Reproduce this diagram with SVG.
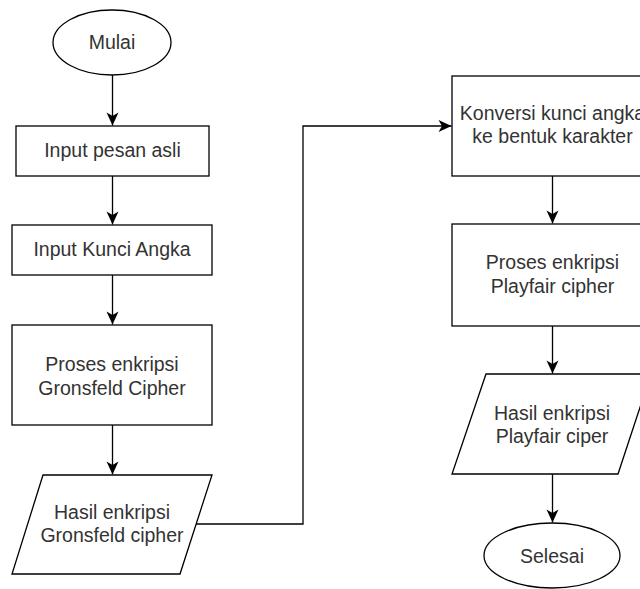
<svg xmlns="http://www.w3.org/2000/svg" width="640" height="589" viewBox="0 0 640 589">
  <style>
    .shape { fill: #ffffff; stroke: #000000; stroke-width: 1.3; }
    .edge { fill: none; stroke: #000000; stroke-width: 1.3; }
    .label { font-family: "Liberation Sans", Arial, sans-serif; font-size: 19.5px; fill: #333333; text-anchor: middle; }
  </style>
  <defs>
    <marker id="arrow" markerUnits="userSpaceOnUse" markerWidth="16" markerHeight="16" viewBox="-14 -8 16 16" refX="0" refY="0" orient="auto">
      <path d="M0,0 L-13,-6 L-9.5,0 L-13,6 Z" fill="#000000"/>
    </marker>
  </defs>

  <rect width="640" height="589" fill="#ffffff"/>

  <!-- connectors -->
  <g id="connectors">
    <path class="edge" d="M112.5,75 V125.5" marker-end="url(#arrow)"/>
    <path class="edge" d="M112.5,176 V224.5" marker-end="url(#arrow)"/>
    <path class="edge" d="M112.5,275 V324.5" marker-end="url(#arrow)"/>
    <path class="edge" d="M112.5,425 V474.5" marker-end="url(#arrow)"/>
    <path class="edge" d="M196,524 H303 V126 H451.5" marker-end="url(#arrow)"/>
    <path class="edge" d="M552.5,176 V223.5" marker-end="url(#arrow)"/>
    <path class="edge" d="M552.5,326 V373.5" marker-end="url(#arrow)"/>
    <path class="edge" d="M552.5,474 V522.5" marker-end="url(#arrow)"/>
  </g>

  <!-- left column -->
  <g id="mulai">
    <ellipse class="shape" cx="112" cy="42.5" rx="59" ry="32.5"/>
    <text class="label" x="112" y="49">Mulai</text>
  </g>
  <g id="input-pesan">
    <rect class="shape" x="16" y="126" width="193" height="50"/>
    <text class="label" x="112.5" y="157">Input pesan asli</text>
  </g>
  <g id="input-kunci">
    <rect class="shape" x="12" y="225" width="200" height="50"/>
    <text class="label" x="112" y="256">Input Kunci Angka</text>
  </g>
  <g id="proses-gronsfeld">
    <rect class="shape" x="12" y="325" width="200" height="100"/>
    <text class="label" x="112" y="371">Proses enkripsi</text>
    <text class="label" x="112" y="394.5">Gronsfeld Cipher</text>
  </g>
  <g id="hasil-gronsfeld">
    <polygon class="shape" points="43,475 212,475 180,574 12,574"/>
    <text class="label" x="112" y="518.5">Hasil enkripsi</text>
    <text class="label" x="112" y="542">Gronsfeld cipher</text>
  </g>

  <!-- right column -->
  <g id="konversi">
    <rect class="shape" x="452" y="76" width="201" height="100"/>
    <text class="label" x="552.5" y="119.5">Konversi kunci angka</text>
    <text class="label" x="552.5" y="143">ke bentuk karakter</text>
  </g>
  <g id="proses-playfair">
    <rect class="shape" x="452" y="224" width="201" height="102"/>
    <text class="label" x="552.5" y="269">Proses enkripsi</text>
    <text class="label" x="552.5" y="292.5">Playfair cipher</text>
  </g>
  <g id="hasil-playfair">
    <polygon class="shape" points="486,374 651,374 618,474 452,474"/>
    <text class="label" x="552" y="419.5">Hasil enkripsi</text>
    <text class="label" x="552" y="443">Playfair ciper</text>
  </g>
  <g id="selesai">
    <ellipse class="shape" cx="552" cy="555.5" rx="68" ry="32.5"/>
    <text class="label" x="552" y="562.5">Selesai</text>
  </g>
</svg>
